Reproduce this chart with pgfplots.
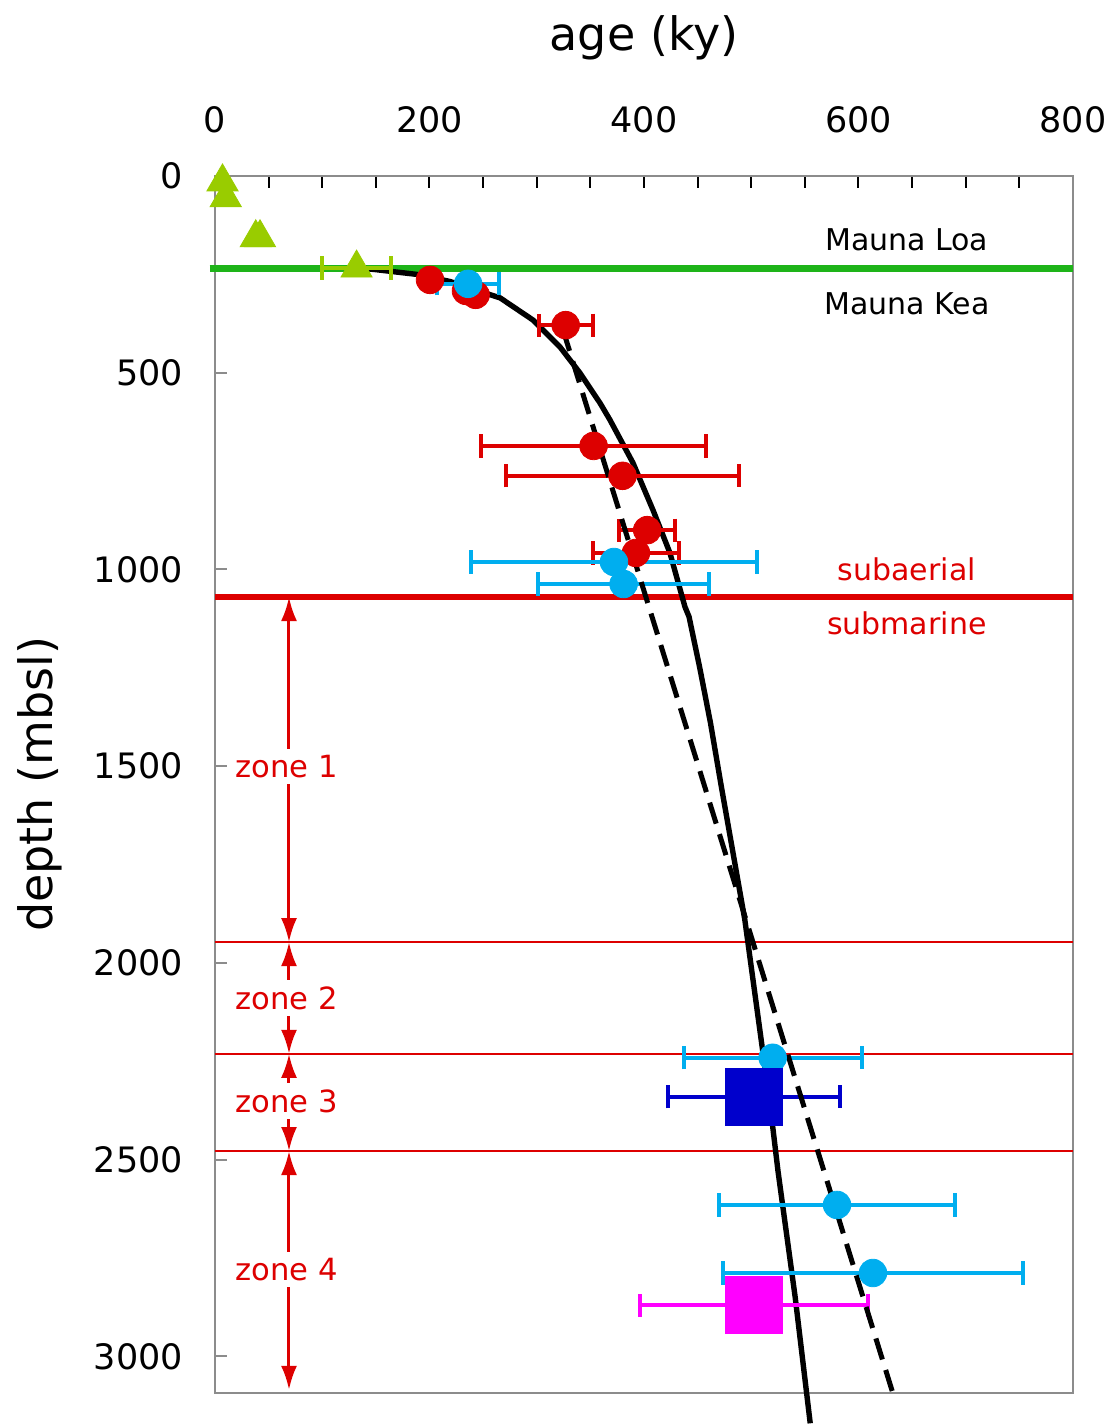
\documentclass[border=0pt]{standalone}
\usepackage{fontspec}
\setmainfont{DejaVu Sans}
\usepackage{pgfplots}
\pgfplotsset{compat=1.18}
\usetikzlibrary{arrows.meta}
\definecolor{mlgreen}{RGB}{30,180,25}
\definecolor{tri}{RGB}{153,204,0}
\definecolor{myred}{RGB}{221,0,0}
\definecolor{mycyan}{RGB}{0,174,239}
\definecolor{myblue}{RGB}{0,0,204}
\definecolor{mymag}{RGB}{255,0,255}
\pgfplotsset{
  ebar/.style={error bars/.cd, x dir=both, x explicit, error mark=|,
    error bar style={line width=2pt, #1},
    error mark options={line width=2pt, mark size=5.8pt, #1, sharp corners}},
}
\begin{document}
\begin{tikzpicture}
\begin{axis}[
  at={(0,0)}, anchor=south west,
  scale only axis, width=429pt, height=608.5pt,
  xmin=0, xmax=800, ymin=0, ymax=3093, y dir=reverse,
  clip=false,
  axis line style={draw=black!45, line width=1.3pt},
  xtick={0,200,...,800}, minor x tick num=3,
  xtick pos=right, xticklabel pos=right,
  ytick={0,500,...,3000}, ytick pos=left,
  tick align=inside,
  major tick length=6pt, minor tick length=6pt,
  every tick/.style={black, line width=1pt},
  ytick style={black!45, line width=1pt},
  ticklabel style={font=\fontsize{17.5}{20}\selectfont},
  xticklabel shift=18pt, yticklabel shift=12.5pt,
  /pgf/number format/assume math mode=true,
  /pgf/number format/1000 sep={},
  scaled ticks=false,
]
% horizontal boundary lines
\addplot[mlgreen, line width=3.5pt, forget plot] coordinates {(-5,235) (800,235)};
\addplot[myred, line width=3pt, forget plot] coordinates {(0,1070) (800,1070)};
\addplot[myred, line width=1pt, forget plot] coordinates {(0,1947) (800,1947)};
\addplot[myred, line width=1pt, forget plot] coordinates {(0,2231) (800,2231)};
\addplot[myred, line width=1pt, forget plot] coordinates {(0,2478) (800,2478)};

% solid age-depth curve
\addplot[black, line width=2.7pt, line join=round] coordinates {
(132,233) (150,238) (188,250) (219,268) (266,310) (296.5,366) (321.7,434.6)
(340.3,500.6) (359,577) (368.3,620) (389.7,729) (408.4,849) (424.2,958)
(438.2,1095) (442,1120) (452,1250) (462,1390) (472,1550) (483,1720)
(494,1890) (502,2050) (510,2210) (518,2370) (525,2530) (533,2690)
(541,2850) (555,3170)};

% green triangles
\addplot[only marks, mark=triangle*, mark size=9pt, color=tri, mark options={fill=tri, draw=tri}] coordinates {
(7,15) (10,55) (38,157) (42,157)};
\addplot[only marks, mark=triangle*, mark size=9pt, color=tri, mark options={fill=tri, draw=tri},
  ebar=tri] coordinates {
(132,234) +- (32,0)};

% red circles with error bars
\addplot[only marks, mark=*, mark size=6.9pt, color=myred, mark options={fill=myred, draw=myred},
  ebar=myred] coordinates {
(327,379) +- (25,0)
(353,686) +- (105,0)
(380,762) +- (109,0)
(403,900) +- (26,0)
(392.5,958) +- (40,0)};
\addplot[only marks, mark=*, mark size=6.9pt, color=myred, mark options={fill=myred, draw=myred}] coordinates {
(234,292) (243,302)};

% cyan circles
\addplot[only marks, mark=*, mark size=6.9pt, color=mycyan, mark options={fill=mycyan, draw=mycyan},
  ebar=mycyan] coordinates {
(236,274) +- (29,0)
(372,981) +- (133,0)
(381,1037) +- (80,0)
(520,2241) +- (83,0)
(580,2615) +- (110,0)
(613.5,2788) +- (140,0)};
\addplot[only marks, mark=*, mark size=6.9pt, color=myred, mark options={fill=myred, draw=myred}] coordinates {
(200.5,264)};

% squares
\addplot[only marks, mark=square*, mark size=14.25pt, color=myblue, mark options={fill=myblue, draw=myblue, rounded corners=1.5pt},
  ebar=myblue] coordinates {
(502.5,2340) +- (80,0)};
\addplot[only marks, mark=square*, mark size=14.25pt, color=mymag, mark options={fill=mymag, draw=mymag, rounded corners=1.5pt},
  ebar=mymag] coordinates {
(502.5,2870) +- (106,0)};

% dashed line
\addplot[black, line width=2.5pt, dash pattern=on 11pt off 5.5pt] coordinates {(324.5,391) (632,3093)};

% zone arrows
\draw[myred, line width=1.5pt, {Latex[length=12pt,width=8pt]}-{Latex[length=12pt,width=8pt]}] (axis cs:69,1070) -- (axis cs:69,1947);
\draw[myred, line width=1.5pt, {Latex[length=12pt,width=8pt]}-{Latex[length=12pt,width=8pt]}] (axis cs:69,1947) -- (axis cs:69,2231);
\draw[myred, line width=1.5pt, {Latex[length=12pt,width=8pt]}-{Latex[length=12pt,width=8pt]}] (axis cs:69,2231) -- (axis cs:69,2478);
\draw[myred, line width=1.5pt, {Latex[length=12pt,width=8pt]}-{Latex[length=12pt,width=8pt]}] (axis cs:69,2478) -- (axis cs:69,3085);
\node[myred, fill=white, inner sep=3pt, font=\fontsize{15.3}{18}\selectfont] at (axis cs:67,1500) {zone 1};
\node[myred, fill=white, inner sep=3pt, font=\fontsize{15.3}{18}\selectfont] at (axis cs:67,2089) {zone 2};
\node[myred, fill=white, inner sep=3pt, font=\fontsize{15.3}{18}\selectfont] at (axis cs:67,2351) {zone 3};
\node[myred, fill=white, inner sep=3pt, font=\fontsize{15.3}{18}\selectfont] at (axis cs:67,2780) {zone 4};

% text labels
\node[font=\fontsize{15}{18}\selectfont] at (axis cs:645,163) {Mauna Loa};
\node[font=\fontsize{15}{18}\selectfont] at (axis cs:645,325) {Mauna Kea};
\node[myred, font=\fontsize{15}{18}\selectfont] at (axis cs:645,1000) {subaerial};
\node[myred, font=\fontsize{15}{18}\selectfont] at (axis cs:645,1138) {submarine};

% axis titles
\node[font=\fontsize{23}{27}\selectfont] at (axis cs:400,-351) {age (ky)};
\node[rotate=90, font=\fontsize{23}{27}\selectfont] at (axis cs:-163,1546) {depth (mbsl)};
\end{axis}
\pgfresetboundingbox
\path (-107.5pt,-16pt) rectangle (448.5pt,696.5pt);
\end{tikzpicture}
\end{document}
